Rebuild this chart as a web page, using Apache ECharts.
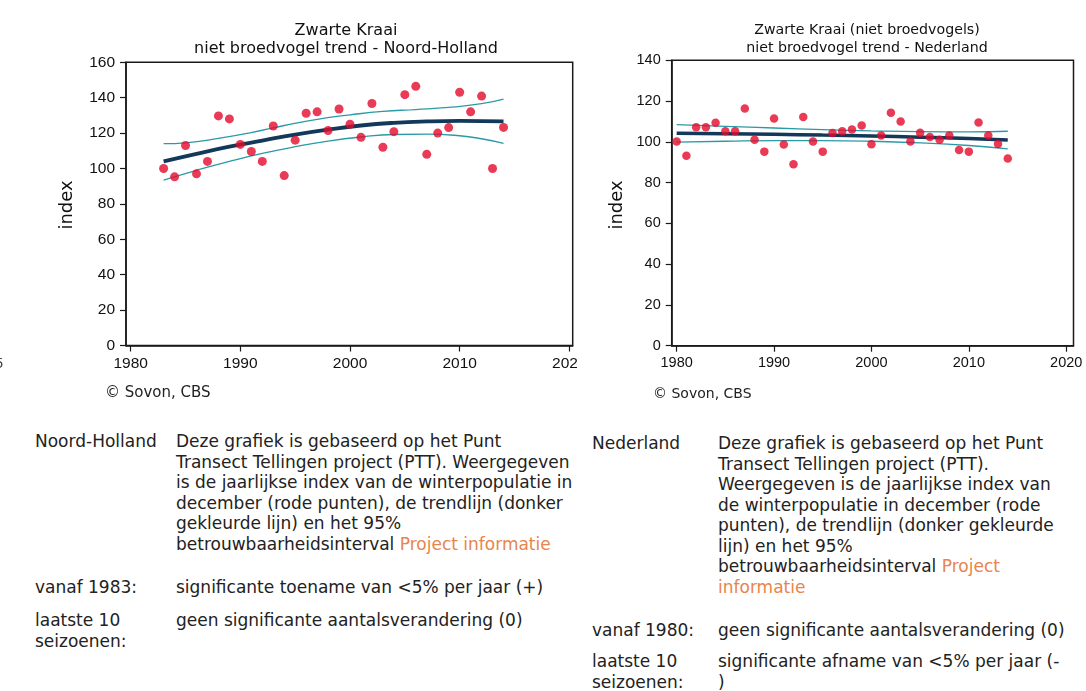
<!DOCTYPE html>
<html><head><meta charset="utf-8">
<script src="https://cdn.jsdelivr.net/npm/echarts@6/dist/echarts.min.js"></script>
<style>
html,body{margin:0;padding:0;background:#fff;}
#wrap{position:relative;width:1086px;height:691px;overflow:hidden;background:#fff;}
#chart{position:absolute;left:0;top:0;width:1086px;height:420px;}
.t{position:absolute;font-family:"DejaVu Sans",Verdana,sans-serif;font-size:17px;line-height:20.5px;color:#222;white-space:nowrap;}
.lnk{color:#e8844c;}
</style></head><body>
<div id="wrap">
<div id="chart"></div>
<div class="t" style="left:35px;top:431px">Noord-Holland</div>
<div class="t" style="left:176px;top:431px">Deze grafiek is gebaseerd op het Punt<br>Transect Tellingen project (PTT). Weergegeven<br>is de jaarlijkse index van de winterpopulatie in<br>december (rode punten), de trendlijn (donker<br>gekleurde lijn) en het 95%<br>betrouwbaarheidsinterval <span class="lnk">Project informatie</span></div>
<div class="t" style="left:35px;top:577px">vanaf 1983:</div>
<div class="t" style="left:176px;top:577px">significante toename van &lt;5% per jaar (+)</div>
<div class="t" style="left:35px;top:610px">laatste 10<br>seizoenen:</div>
<div class="t" style="left:176px;top:610px">geen significante aantalsverandering (0)</div>

<div class="t" style="left:592px;top:433px">Nederland</div>
<div class="t" style="left:718px;top:433px">Deze grafiek is gebaseerd op het Punt<br>Transect Tellingen project (PTT).<br>Weergegeven is de jaarlijkse index van<br>de winterpopulatie in december (rode<br>punten), de trendlijn (donker gekleurde<br>lijn) en het 95%<br>betrouwbaarheidsinterval <span class="lnk">Project<br>informatie</span></div>
<div class="t" style="left:592px;top:620px">vanaf 1980:</div>
<div class="t" style="left:718px;top:620px">geen significante aantalsverandering (0)</div>
<div class="t" style="left:592px;top:651px">laatste 10<br>seizoenen:</div>
<div class="t" style="left:718px;top:651px">significante afname van &lt;5% per jaar (-<br>)</div>
</div>
<script>
// ---- Data: Noord-Holland ----
const nhYears = [1983,1984,1985,1986,1987,1988,1989,1990,1991,1992,1993,1994,1995,1996,1997,1998,1999,2000,2001,2002,2003,2004,2005,2006,2007,2008,2009,2010,2011,2012,2013,2014];
const nhIndex = [100,95.3,113,97,104,129.7,128,113.6,109.6,104,124,96,116,131.2,132,121.5,133.6,125,117.6,136.7,112,120.8,141.7,146.4,108,120,123.1,143.1,132,140.9,100,123.2];
const nhTrend = [[1983,104],[1986,108.3],[1989,112.3],[1992,115.8],[1995,119.2],[1998,122],[2001,124.3],[2004,125.8],[2007,126.6],[2010,126.9],[2014,126.6]];
const nhUpper = [[1983,114],[1985,114.5],[1988,117],[1991,120.3],[1994,124.3],[1997,127.8],[2000,130.3],[2003,132.3],[2006,133.3],[2009,134.5],[2012,136.6],[2014,139.2]];
const nhLower = [[1983,93.5],[1986,99],[1989,104],[1992,108.5],[1995,112.3],[1998,115.5],[2001,117.8],[2004,119.2],[2007,119.4],[2010,118.5],[2012,116.8],[2014,114.2]];

// ---- Data: Nederland ----
const nlYears = [1980,1981,1982,1983,1984,1985,1986,1987,1988,1989,1990,1991,1992,1993,1994,1995,1996,1997,1998,1999,2000,2001,2002,2003,2004,2005,2006,2007,2008,2009,2010,2011,2012,2013,2014];
const nlIndex = [100.2,93.2,107.2,107.2,109.4,105.2,105.2,116.3,101,95.2,111.5,98.7,89,112.2,100.2,95.2,104.3,105.2,106,108,98.8,103.1,114.3,110,100.2,104.4,102.4,101,103.1,96,95.2,109.5,103.1,99,91.8];
const nlTrend = [[1980,104.2],[1985,104],[1990,103.7],[1995,103.3],[2000,102.9],[2005,102.3],[2010,101.6],[2014,100.9]];
const nlUpper = [[1980,108.4],[1985,107.6],[1990,106.8],[1995,106],[2000,105.4],[2005,105],[2010,104.9],[2014,105.2]];
const nlLower = [[1980,99.9],[1985,100.3],[1990,100.6],[1995,100.6],[2000,100.3],[2005,99.5],[2010,98.2],[2014,96.6]];

// ---- Tick labels / texts ----
const xTicks = [1980,1990,2000,2010,2020];
const nhTitle = ['Zwarte Kraai','niet broedvogel trend - Noord-Holland'];
const nlTitle = ['Zwarte Kraai (niet broedvogels)','niet broedvogel trend - Nederland'];
const yName = 'index';
const credit = '\u00A9 Sovon, CBS';

const RED = '#e30a2c', NAVY = '#12385a', TEAL = '#2a9aa6', AX = '#1a1a1a';

function xAxisCfg(gi, min, max, fs){
  return {type:'value', gridIndex:gi, min:min, max:max,
    axisLine:{show:true,lineStyle:{color:AX,width:1.5}},
    axisTick:{show:true,length:6,customValues:xTicks,lineStyle:{color:AX,width:1.2}},
    axisLabel:{customValues:xTicks,margin:10,fontSize:fs,color:'#111',fontFamily:'Liberation Sans, Arial, sans-serif',formatter:v=>String(Math.round(v))},
    splitLine:{show:false}};
}
function yAxisCfg(gi, max, fs){
  return {type:'value', gridIndex:gi, min:0, max:max, interval:20,
    axisLine:{show:true,lineStyle:{color:AX,width:1.5}},
    axisTick:{show:true,length:6,lineStyle:{color:AX,width:1.2}},
    axisLabel:{margin:11,fontSize:fs,color:'#111',fontFamily:'Liberation Sans, Arial, sans-serif'},
    splitLine:{show:false}};
}
function lineS(xi, data, color, w, z){
  return {type:'line', xAxisIndex:xi, yAxisIndex:xi, data:data, smooth:true, showSymbol:false, symbol:'none',
    lineStyle:{color:color,width:w}, z:z, silent:true};
}

const chart = echarts.init(document.getElementById('chart'), null, {renderer:'canvas'});
chart.setOption({
  animation:false,
  backgroundColor:'#fff',
  grid:[
    {left:126, top:62.3, width:446.7, height:283.2, show:true, borderColor:AX, borderWidth:1.5, backgroundColor:'transparent'},
    {left:671.7, top:60.3, width:401.8, height:285.4, show:true, borderColor:AX, borderWidth:1.5, backgroundColor:'transparent'}
  ],
  xAxis:[xAxisCfg(0,1979.57,2020.31,15.5), xAxisCfg(1,1979.49,2020.75,14.5)],
  yAxis:[yAxisCfg(0,160,15.5), yAxisCfg(1,140,14.5)],
  series:[
    lineS(0, nhUpper, TEAL, 1.3, 2),
    lineS(0, nhLower, TEAL, 1.3, 2),
    lineS(0, nhTrend, NAVY, 3.8, 3),
    {type:'scatter', xAxisIndex:0, yAxisIndex:0, data:nhYears.map((y,i)=>[y,nhIndex[i]]), symbolSize:9, itemStyle:{color:RED}, z:4},
    lineS(1, nlUpper, TEAL, 1.3, 2),
    lineS(1, nlLower, TEAL, 1.3, 2),
    lineS(1, nlTrend, NAVY, 3.5, 3),
    {type:'scatter', xAxisIndex:1, yAxisIndex:1, data:nlYears.map((y,i)=>[y,nlIndex[i]]), symbolSize:8.5, itemStyle:{color:RED}, z:4}
  ],
  graphic:[
    {type:'text', x:346, y:22, style:{text:nhTitle.join('\n'), font:'16px "DejaVu Sans", Verdana, sans-serif', fill:'#111', textAlign:'center', lineHeight:18}},
    {type:'text', x:867, y:21.5, style:{text:nlTitle.join('\n'), font:'14.2px "DejaVu Sans", Verdana, sans-serif', fill:'#111', textAlign:'center', lineHeight:18}},
    {type:'text', x:67, y:205, rotation:Math.PI/2, style:{text:yName, font:'18px "DejaVu Sans", Verdana, sans-serif', fill:'#111', textAlign:'center', textVerticalAlign:'middle'}},
    {type:'text', x:617, y:205, rotation:Math.PI/2, style:{text:yName, font:'18px "DejaVu Sans", Verdana, sans-serif', fill:'#111', textAlign:'center', textVerticalAlign:'middle'}},
    {type:'text', x:105, y:393, style:{text:credit, font:'15px "DejaVu Sans", Verdana, sans-serif', fill:'#222', textVerticalAlign:'middle'}},
    {type:'text', x:653, y:394, style:{text:credit, font:'14px "DejaVu Sans", Verdana, sans-serif', fill:'#222', textVerticalAlign:'middle'}},
    {type:'text', x:3, y:364, style:{text:'5', font:'15px "Liberation Sans", Arial, sans-serif', fill:'#444', textAlign:'right', textVerticalAlign:'middle'}},
    {type:'rect', z:100, shape:{x:577, y:352, width:30, height:26}, style:{fill:'#fff'}}
  ]
});
</script>
</body></html>
